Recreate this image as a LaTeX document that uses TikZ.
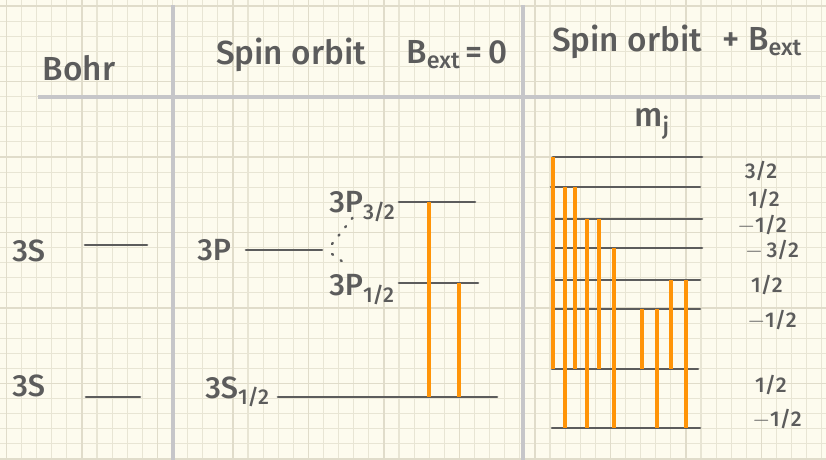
\documentclass[tikz,border=0pt]{standalone}
\usepackage{fontspec}
\setmainfont{Fira Sans}[UprightFont=* Medium]
\usetikzlibrary{positioning}
\definecolor{paper}{HTML}{FDFBEE}
\definecolor{gridminor}{HTML}{E8E5D4}
\definecolor{gridmajor}{HTML}{E0DCCA}
\definecolor{pen}{HTML}{5C5C5C}
\definecolor{marker}{HTML}{FF9408}
\definecolor{rule}{HTML}{C6C6C9}
\tikzset{
	level/.style={draw=pen, line width=2pt, line cap=round},
	trans/.style={draw=marker, line width=2.4pt},
	divider/.style={draw=rule, line width=2.4pt},
	hand/.style={text=pen, font=\fontsize{25}{28}\selectfont, inner sep=0pt},
	statelabel/.style={text=pen, font=\fontsize{23}{26}\selectfont, inner sep=0pt, anchor=base west},
	mlabel/.style={text=pen, font=\fontsize{16}{18}\selectfont, inner sep=0pt},
	splitdots/.style={draw=pen, line width=1.8pt, line cap=round, dash pattern=on 1pt off 7pt}
}

\begin{document}
\begin{tikzpicture}[x=0.75pt, y=-0.75pt]
	\useasboundingbox (0,0) rectangle (826,460);
	\fill[paper] (0,0) rectangle (826,460);
	\foreach \i in {0,...,54} \draw[gridminor, line width=0.8pt] ({6.4+15.1*\i},0) -- ++(0,460);
	\foreach \j in {0,...,30} \draw[gridminor, line width=0.8pt] (0,{6+15.1*\j}) -- ++(826,0);
	\foreach \i in {0,5,...,50} \draw[gridmajor, line width=1.3pt] ({6.4+15.1*\i},0) -- ++(0,460);
	\foreach \j in {0,5,...,30} \draw[gridmajor, line width=1.3pt] (0,{6+15.1*\j}) -- ++(826,0);

	\draw[divider] (173,5) -- (173,460);
	\draw[divider] (523,5) -- (523,460);
	\draw[divider] (38,97) -- (820,97);

	\node[hand] (bohr) at (79,68) {Bohr};
	\node[hand] (so) at (291,55) {Spin orbit};
	\node[hand] (bzero) at (457,55) {B\textsubscript{ext}\,=\,0};
	\node[hand] (sob) at (627,42) {Spin orbit};
	\node[hand, right=15pt of sob] (bext) {+ B\textsubscript{ext}};
	\node[hand] (mj) at (652,124) {m\textsubscript{j}};

	\node[statelabel] (b3p) at (12,262) {3S};
	\draw[level] (85,245) -- (147,245);
	\node[statelabel] (b3s) at (12,396) {3S};
	\draw[level] (86,397) -- (140,397);

	\node[statelabel] (lp) at (197,260) {3P};
	\draw[level] (246,250) coordinate (p) -- (322,250) coordinate (pend);
	\draw[level] (399,202) coordinate (p32) -- (475,202);
	\draw[level] (399,283) coordinate (p12) -- (478,283);
	\draw[level] (278,397) coordinate (s12) -- (497,397);
	\draw[splitdots] (332,244) -- (354,216);
	\draw[splitdots] (332,254) -- (343,262);
	\node[statelabel] (lp32) at (329,213) {3P\textsubscript{3/2}};
	\node[statelabel] (lp12) at (329,296) {3P\textsubscript{1/2}};
	\node[statelabel] (ls12) at (205,398) {3S\textsubscript{1/2}};
	\draw[trans] (429,0 |- p32) -- (429,0 |- s12);
	\draw[trans] (459,0 |- p12) -- (459,0 |- s12);

	\foreach \n/\y/\a/\b/\t/\tx/\ty in {1/157/553/702/3\slash 2/761/171, 2/187/551/700/1\slash 2/764/199,
		3/219/553/702/$-$1\slash 2/762/225, 4/248/555/702/$-$\,3\slash 2/772/250,
		5/280/553/700/1\slash 2/767/285, 6/309/555/700/$-$1\slash 2/772/320,
		7/369/552/698/1\slash 2/771/385, 8/428/552/700/$-$1\slash 2/777/419}{
		\draw[level] (\a,\y) coordinate (m\n) -- (\b,\y);
		\node[mlabel] (ml\n) at (\tx,\ty) {\t};
	}
	\foreach \x/\a/\b in {553/1/7, 565/2/8, 575/2/7, 587/3/8, 599/3/7, 614/4/8, 642/6/7, 657/6/8, 671/5/7, 686/5/8}
		\draw[trans] (\x,0 |- m\a) -- (\x,0 |- m\b);
\end{tikzpicture}
\end{document}
